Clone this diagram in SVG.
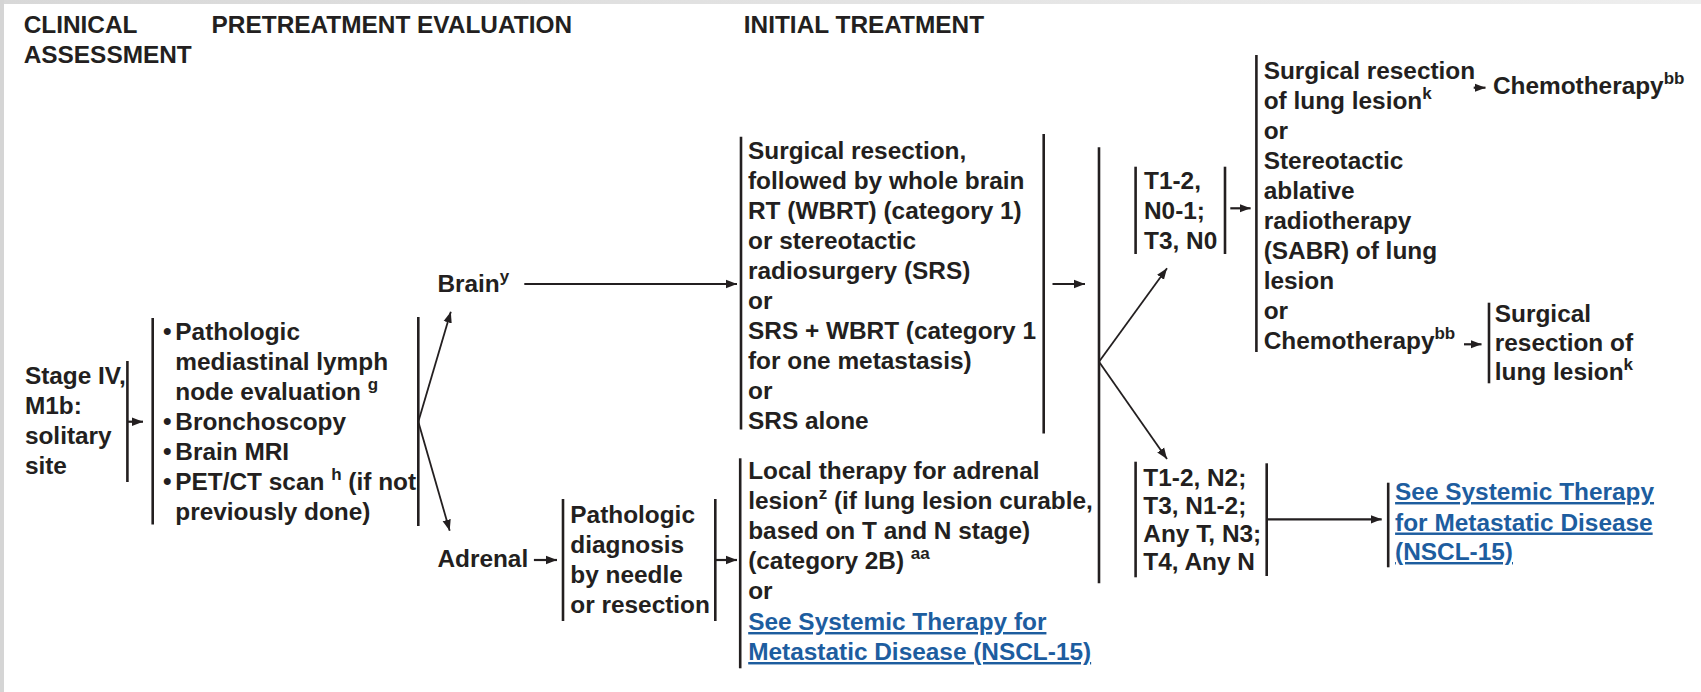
<svg xmlns="http://www.w3.org/2000/svg" width="1701" height="692" viewBox="0 0 1701 692">
<defs>
<style>
text{font-family:"Liberation Sans",Arial,sans-serif;font-weight:bold;font-size:24.4px;fill:#231f20}
.sup{font-size:17px}
.link{fill:#1d5d9f;text-decoration:underline}
.bar{stroke:#231f20;stroke-width:2.6;fill:none}
.arr{stroke:#231f20;stroke-width:2.2;fill:none;marker-end:url(#ah)}
.br{stroke:#231f20;stroke-width:1.8;fill:none;marker-end:url(#ah)}
</style>
<marker id="ah" markerUnits="userSpaceOnUse" markerWidth="12" markerHeight="10" refX="11" refY="5" orient="auto">
<path d="M0,0.8 L11,5 L0,9.2 z" fill="#231f20"/>
</marker>
<linearGradient id="tg" x1="0" x2="1" y1="0" y2="0">
<stop offset="0" stop-color="#d8d8d8"/><stop offset="1" stop-color="#eeeeee"/>
</linearGradient>
</defs>
<rect x="0" y="0" width="1701" height="692" fill="#ffffff"/>
<rect x="0" y="0" width="1701" height="4" fill="url(#tg)"/>
<rect x="0" y="0" width="4" height="692" fill="#d5d5d5"/>

<g id="headers">
<text x="23.7" y="33.3">CLINICAL</text>
<text x="23.7" y="62.7">ASSESSMENT</text>
<text x="211.6" y="33.3">PRETREATMENT EVALUATION</text>
<text x="743.8" y="33.3">INITIAL TREATMENT</text>
</g>

<g id="stage">
<text><tspan x="24.9" y="384">Stage IV,</tspan><tspan x="24.9" y="414">M1b:</tspan><tspan x="24.9" y="444">solitary</tspan><tspan x="24.9" y="474">site</tspan></text>
<line class="bar" x1="127.4" y1="361" x2="127.4" y2="482"/>
</g>

<g id="pretreatment">
<line class="bar" x1="152.7" y1="318" x2="152.7" y2="524.5"/>
<line class="bar" x1="418.3" y1="317" x2="418.3" y2="526"/>
<text>
<tspan x="163" y="340">•</tspan><tspan x="175.3" y="340">Pathologic</tspan>
<tspan x="175.3" y="370">mediastinal lymph</tspan>
<tspan x="175.3" y="400">node evaluation <tspan class="sup" dy="-10">g</tspan></tspan>
<tspan x="163" y="430">•</tspan><tspan x="175.3" y="430">Bronchoscopy</tspan>
<tspan x="163" y="460">•</tspan><tspan x="175.3" y="460">Brain MRI</tspan>
<tspan x="163" y="490">•</tspan><tspan x="175.3" y="490">PET/CT scan <tspan class="sup" dy="-10">h</tspan><tspan dy="10"> (if not</tspan></tspan>
<tspan x="175.3" y="520">previously done)</tspan>
</text>
</g>

<g id="brain">
<text x="437.4" y="291.7">Brain<tspan class="sup" dy="-10">y</tspan></text>
</g>

<g id="adrenal">
<text x="437.4" y="566.7">Adrenal</text>
</g>

<g id="pathologic">
<line class="bar" x1="563" y1="499" x2="563" y2="621"/>
<line class="bar" x1="715.3" y1="499" x2="715.3" y2="621"/>
<text><tspan x="570.3" y="522.7">Pathologic</tspan><tspan x="570.3" y="552.7">diagnosis</tspan><tspan x="570.3" y="582.7">by needle</tspan><tspan x="570.3" y="612.7">or resection</tspan></text>
</g>

<g id="brain-treatment">
<line class="bar" x1="741" y1="136.7" x2="741" y2="429.5"/>
<line class="bar" x1="1043.7" y1="134" x2="1043.7" y2="433.5"/>
<text>
<tspan x="748" y="158.7">Surgical resection,</tspan>
<tspan x="748" y="188.7">followed by whole brain</tspan>
<tspan x="748" y="218.7">RT (WBRT) (category 1)</tspan>
<tspan x="748" y="248.7">or stereotactic</tspan>
<tspan x="748" y="278.7">radiosurgery (SRS)</tspan>
<tspan x="748" y="308.7">or</tspan>
<tspan x="748" y="338.7">SRS + WBRT (category 1</tspan>
<tspan x="748" y="368.7">for one metastasis)</tspan>
<tspan x="748" y="398.7">or</tspan>
<tspan x="748" y="428.7">SRS alone</tspan>
</text>
</g>

<g id="adrenal-treatment">
<line class="bar" x1="740.2" y1="458.3" x2="740.2" y2="668.3"/>
<text>
<tspan x="748.2" y="479.3">Local therapy for adrenal</tspan>
<tspan x="748.2" y="509.3">lesion<tspan class="sup" dy="-10">z</tspan><tspan dy="10"> (if lung lesion curable,</tspan></tspan>
<tspan x="748.2" y="539.3">based on T and N stage)</tspan>
<tspan x="748.2" y="569.3">(category 2B) <tspan class="sup" dy="-10">aa</tspan></tspan>
<tspan x="748.2" y="599.3">or</tspan>
<tspan class="link" x="748.2" y="630">See Systemic Therapy for</tspan>
<tspan class="link" x="748.2" y="660">Metastatic Disease (NSCL-15)</tspan>
</text>
</g>

<g id="t12-n01">
<line class="bar" x1="1135.6" y1="166.7" x2="1135.6" y2="254"/>
<line class="bar" x1="1225" y1="166.7" x2="1225" y2="254"/>
<text><tspan x="1144" y="189">T1-2,</tspan><tspan x="1144" y="219">N0-1;</tspan><tspan x="1144" y="249">T3, N0</tspan></text>
</g>

<g id="local-options">
<line class="bar" x1="1256.4" y1="55" x2="1256.4" y2="352"/>
<text>
<tspan x="1263.7" y="79.3">Surgical resection</tspan>
<tspan x="1263.7" y="109.3">of lung lesion<tspan class="sup" dy="-10">k</tspan></tspan>
<tspan x="1263.7" y="139.3">or</tspan>
<tspan x="1263.7" y="169.3">Stereotactic</tspan>
<tspan x="1263.7" y="199.3">ablative</tspan>
<tspan x="1263.7" y="229.3">radiotherapy</tspan>
<tspan x="1263.7" y="259.3">(SABR) of lung</tspan>
<tspan x="1263.7" y="289.3">lesion</tspan>
<tspan x="1263.7" y="319.3">or</tspan>
<tspan x="1263.7" y="349.3">Chemotherapy<tspan class="sup" dy="-10">bb</tspan></tspan>
</text>
</g>

<g id="chemo-after">
<text x="1492.9" y="94">Chemotherapy<tspan class="sup" dy="-10">bb</tspan></text>
</g>

<g id="surgery-after">
<line class="bar" x1="1489" y1="302.7" x2="1489" y2="383.3"/>
<text><tspan x="1494.8" y="321.7">Surgical</tspan><tspan x="1494.8" y="350.7">resection of</tspan><tspan x="1494.8" y="380">lung lesion<tspan class="sup" dy="-10">k</tspan></tspan></text>
</g>

<g id="t12-n2">
<line class="bar" x1="1135.6" y1="461.7" x2="1135.6" y2="577.3"/>
<line class="bar" x1="1266.7" y1="463.3" x2="1266.7" y2="576"/>
<text><tspan x="1143.3" y="486">T1-2, N2;</tspan><tspan x="1143.3" y="514">T3, N1-2;</tspan><tspan x="1143.3" y="542">Any T, N3;</tspan><tspan x="1143.3" y="570">T4, Any N</tspan></text>
</g>

<g id="systemic-link">
<line class="bar" x1="1388.2" y1="482.7" x2="1388.2" y2="567.3"/>
<text class="link"><tspan x="1395.1" y="500">See Systemic Therapy</tspan><tspan x="1395.1" y="530.5">for Metastatic Disease</tspan><tspan x="1395.1" y="560">(NSCL-15)</tspan></text>
</g>

<g id="connectors">
<line class="arr" x1="128" y1="421.7" x2="143" y2="421.7"/>
<line class="br" x1="418.3" y1="421.7" x2="450.8" y2="311.7"/>
<line class="br" x1="418.3" y1="421.7" x2="449.7" y2="530.7"/>
<line class="arr" x1="524.3" y1="284" x2="737" y2="284"/>
<line class="arr" x1="533.9" y1="560" x2="557" y2="560"/>
<line class="arr" x1="715.3" y1="560" x2="737" y2="560"/>
<line class="arr" x1="1052.5" y1="284" x2="1085" y2="284"/>
<line class="bar" x1="1099" y1="147.3" x2="1099" y2="583.3"/>
<line class="br" x1="1099" y1="361.7" x2="1167" y2="268.3"/>
<line class="br" x1="1099" y1="361.7" x2="1167" y2="459"/>
<line class="arr" x1="1230.3" y1="208.3" x2="1250.6" y2="208.3"/>
<line class="arr" x1="1473.7" y1="87.7" x2="1485.5" y2="87.7"/>
<line class="arr" x1="1464" y1="344.3" x2="1481.5" y2="344.3"/>
<line class="arr" x1="1266.7" y1="519.3" x2="1381.7" y2="519.3"/>
</g>
</svg>
